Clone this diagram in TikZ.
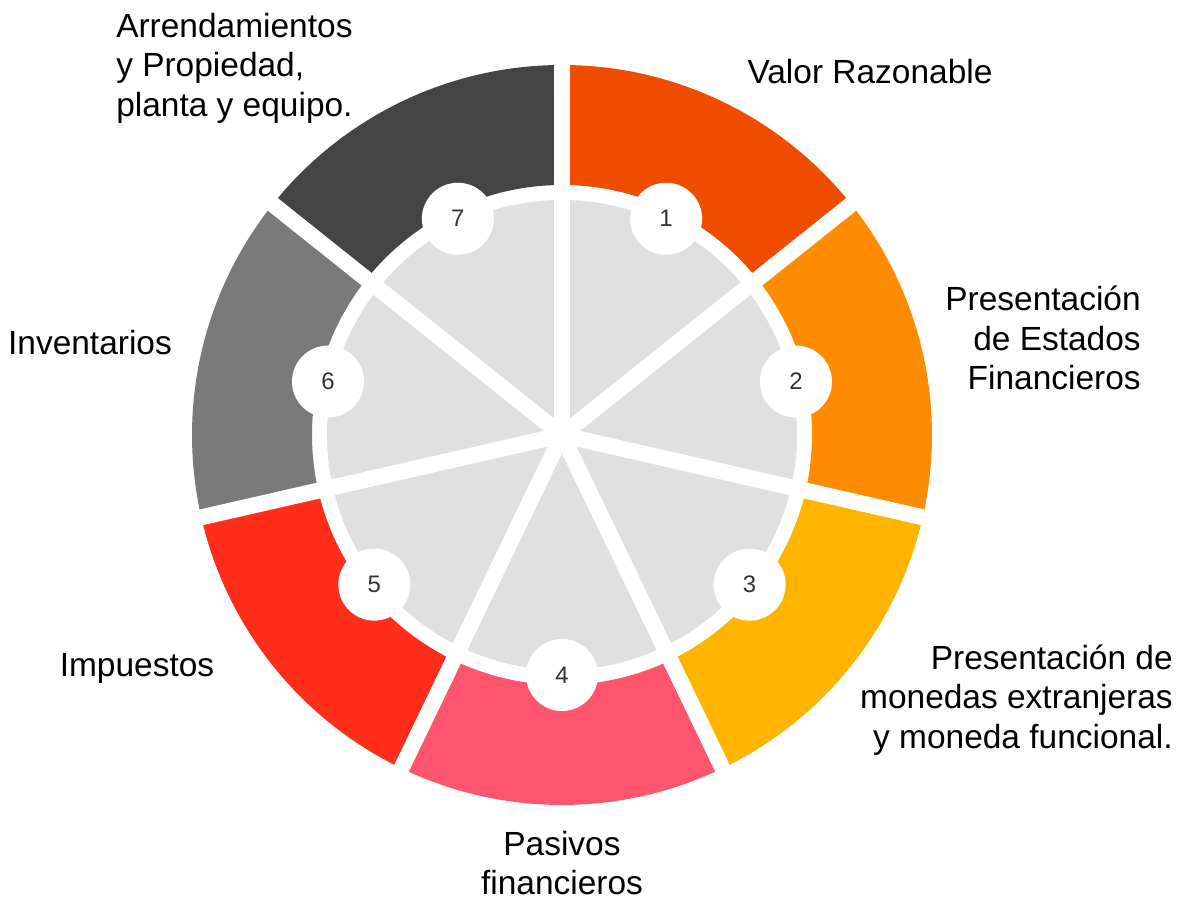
\documentclass[tikz,border=0pt]{standalone}
\usepackage{fontspec}
\setmainfont{Liberation Sans}
\usetikzlibrary{positioning}
\definecolor{segA}{RGB}{240,76,0}
\definecolor{segB}{RGB}{255,140,0}
\definecolor{segC}{RGB}{255,180,0}
\definecolor{segD}{RGB}{255,84,110}
\definecolor{segE}{RGB}{255,46,26}
\definecolor{segF}{RGB}{122,122,122}
\definecolor{segG}{RGB}{68,68,68}
\definecolor{coregrey}{RGB}{224,224,224}
\begin{document}
\begin{tikzpicture}[%
	x=0.025cm, y=0.025cm,
	numnode/.style={circle, fill=white, minimum size=1.8cm, inner sep=0,
		font=\fontsize{17}{17}\selectfont, text=black!80},
	lbl/.style={font=\fontsize{23.8}{28}\selectfont, inner sep=0}
	]
	\useasboundingbox (-562,-464) rectangle (616,435);
	
	% coloured ring
	\foreach \i/\c in {1/segA,2/segB,3/segC,4/segD,5/segE,6/segF,7/segG}{
		\pgfmathsetmacro{\a}{90-(\i-1)*360/7}
		\pgfmathsetmacro{\b}{90-\i*360/7}
		\fill[\c] (\a:250) arc[start angle=\a, end angle=\b, radius=250]
		-- (\b:370) arc[start angle=\b, end angle=\a, radius=370] -- cycle;
	}
	
	% inner disc
	\fill[coregrey] (0,0) circle[radius=235];
	
	% gaps
	\foreach \k in {0,...,6}
	\draw[white, line width=0.4cm] (0,0) -- ({90-\k*360/7}:380);
	
	% numbers
	\foreach \i in {1,...,7}
	\node[numnode] (n\i) at ({90-(\i-0.5)*360/7}:240) {\i};
	
	\node[lbl] (valor) at (308,363) {Valor Razonable};
	
	\node[lbl, align=right, anchor=east] (estados) at (579,97)
	{Presentación\\de Estados\\Financieros};
	
	\node[lbl, align=right, anchor=east] (monedas) at (611,-265)
	{Presentación de\\monedas extranjeras\\y moneda funcional.};
	
	\node[lbl, align=center] (pasivos) at (0,-428) {Pasivos\\financieros};
	
	\node[lbl] (impuestos) at (-425,-233) {Impuestos};
	
	\node[lbl] (inventarios) at (-472,92) {Inventarios};
	
	\node[lbl, align=left, anchor=west] (arrend) at (-446,367)
	{Arrendamientos\\y Propiedad,\\planta y equipo.};
	
\end{tikzpicture}
\end{document}
